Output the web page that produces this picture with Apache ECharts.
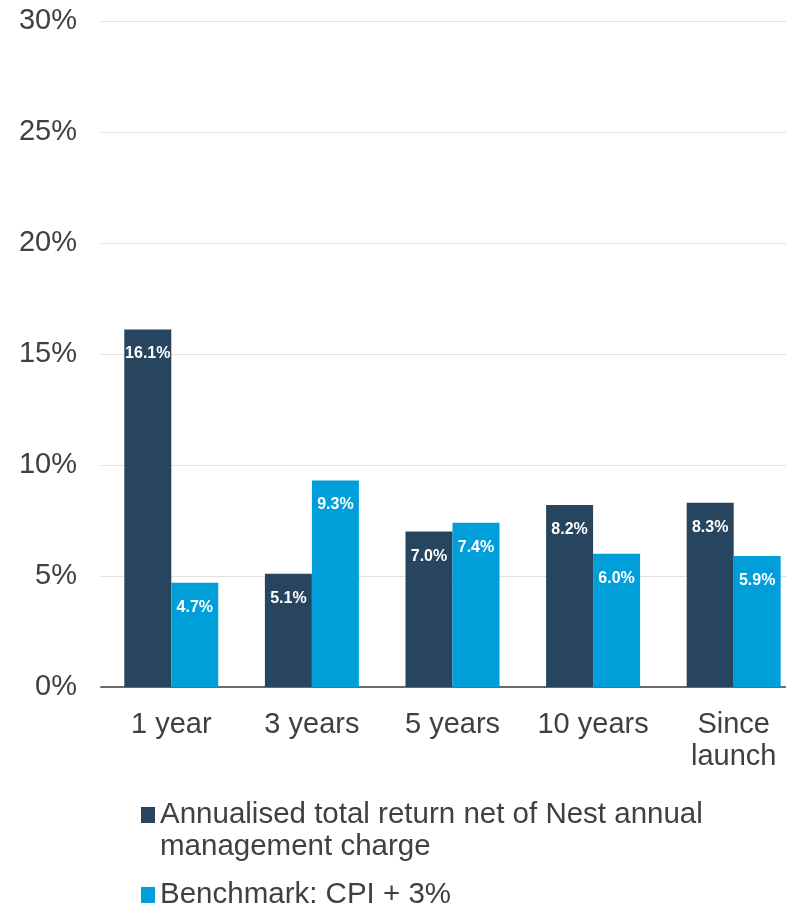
<!DOCTYPE html>
<html>
<head>
<meta charset="utf-8">
<script src="https://cdn.jsdelivr.net/npm/echarts@6/dist/echarts.min.js"></script>
<style>
  html, body { margin: 0; padding: 0; background: #ffffff; overflow: hidden; }
  #chart { width: 804px; height: 910px; }
</style>
</head>
<body>
<div id="chart"></div>
<script>
// Periods shown along the x axis
const periods = ['1 year', '3 years', '5 years', '10 years', 'Since\nlaunch'];

// Series names
const fundName = 'Annualised total return net of Nest annual management charge';
const benchName = 'Benchmark: CPI + 3%';

// Annualised returns (%) per period
const fundReturns = [16.1, 5.1, 7.0, 8.2, 8.3];
const benchReturns = [4.7, 9.3, 7.4, 6.0, 5.9];

// Y axis range and step (%)
const yMin = 0;
const yMax = 30;
const yStep = 5;

const FONT = "'Liberation Sans', Arial, sans-serif";
const TEXT = '#404040';
const DARK = '#284560';
const LIGHT = '#009fda';

const chart = echarts.init(document.getElementById('chart'), null, { renderer: 'canvas' });

const valueLabel = {
  show: true,
  position: 'insideTop',
  distance: 16,
  formatter: p => p.value.toFixed(1) + '%',
  color: '#ffffff',
  fontFamily: FONT,
  fontWeight: 'bold',
  fontSize: 16,
  lineHeight: 17
};

const legendText = {
  fontFamily: FONT,
  fontSize: 29.5,
  lineHeight: 32,
  color: TEXT
};

chart.setOption({
  animation: false,
  backgroundColor: '#ffffff',
  grid: { left: 101, top: 21, right: 0, bottom: 223, containLabel: false },
  xAxis: {
    type: 'category',
    data: periods,
    axisLine: { show: true, lineStyle: { color: '#6b6b6b', width: 2 } },
    axisTick: { show: false },
    axisLabel: {
      interval: 0,
      margin: 22,
      fontFamily: FONT,
      fontSize: 29,
      lineHeight: 32,
      color: TEXT
    }
  },
  yAxis: {
    type: 'value',
    min: yMin,
    max: yMax,
    interval: yStep,
    axisLine: { show: false },
    axisTick: { show: false },
    axisLabel: {
      margin: 24,
      padding: [4, 0, 0, 0],
      formatter: '{value}%',
      fontFamily: FONT,
      fontSize: 29,
      color: TEXT
    },
    splitLine: { show: true, lineStyle: { color: '#e4e1db', width: 1 } }
  },
  legend: [
    {
      // Long name wraps onto a second line; a leading blank line keeps
      // the first line level with the swatch
      data: [fundName],
      orient: 'vertical',
      left: 141,
      top: 767,
      padding: 0,
      icon: 'rect',
      itemWidth: 14,
      itemHeight: 16,
      formatter: name => '\u00a0\n' + name.replace(' management', '\nmanagement'),
      textStyle: legendText
    },
    {
      data: [benchName],
      orient: 'vertical',
      left: 141,
      top: 879,
      padding: 0,
      icon: 'rect',
      itemWidth: 14,
      itemHeight: 16,
      textStyle: legendText
    }
  ],
  series: [
    {
      name: fundName,
      type: 'bar',
      data: fundReturns,
      barWidth: 47,
      barGap: '0%',
      itemStyle: { color: DARK },
      label: valueLabel
    },
    {
      name: benchName,
      type: 'bar',
      data: benchReturns,
      barWidth: 47,
      barGap: '0%',
      itemStyle: { color: LIGHT },
      label: valueLabel
    }
  ]
});
</script>
</body>
</html>
